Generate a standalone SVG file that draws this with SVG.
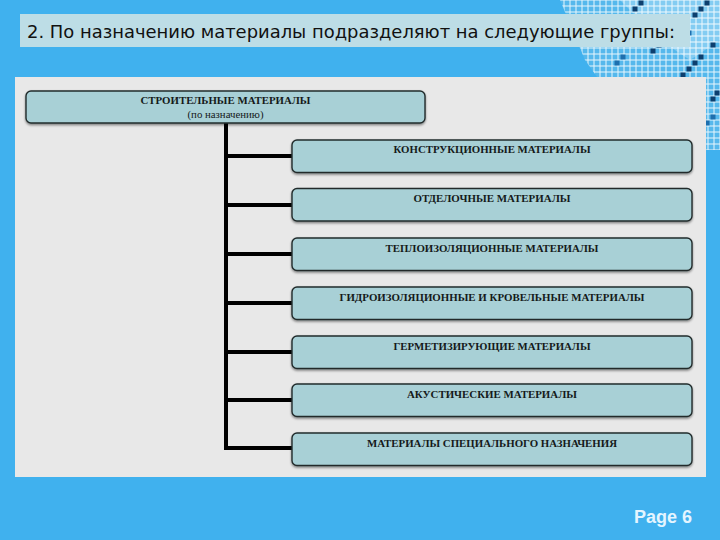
<svg xmlns="http://www.w3.org/2000/svg" width="720" height="540" viewBox="0 0 720 540">
<defs>
<pattern id="mosaic" width="6" height="6" patternUnits="userSpaceOnUse">
<rect width="6" height="6" fill="#e8f6fd"/>
<rect x="0.5" y="0.5" width="5" height="5" fill="#55b8ec"/>
</pattern>
<pattern id="mosaic2" width="6" height="6" patternUnits="userSpaceOnUse">
<rect width="6" height="6" fill="#f4fbff"/>
<rect x="0.5" y="0.5" width="5" height="5" fill="#8fd1f4"/>
</pattern>
<filter id="sh" x="-5%" y="-20%" width="110%" height="150%">
<feDropShadow dx="0" dy="1.5" stdDeviation="0.8" flood-color="#000" flood-opacity="0.45"/>
</filter>
</defs>
<style>
.box{fill:#a8d0d6;stroke:#222c2c;stroke-width:1.4;filter:url(#sh)}
.lbl{font-family:"Liberation Serif","Times New Roman",serif;font-weight:bold;font-size:11px;fill:#151a1a;text-anchor:middle}
.sub{font-family:"Liberation Serif","Times New Roman",serif;font-size:10px;fill:#151a1a;text-anchor:middle}
.conn{stroke:#000;stroke-width:4;fill:none}
</style>
<rect width="720" height="540" fill="#40b1ee"/>
<g id="decor">
<polygon points="560,0 720,0 720,150 700,150 650,120 610,95 585,60" fill="url(#mosaic)"/>
<polygon points="620,0 720,0 720,40 690,60 660,40" fill="url(#mosaic2)" opacity="0.8"/>
<g fill="#0d3f6e">
<rect x="650.5" y="48.5" width="5" height="5"/><rect x="656.5" y="42.5" width="5" height="5"/><rect x="662.5" y="36.5" width="5" height="5"/><rect x="668.5" y="30.5" width="5" height="5"/><rect x="674.5" y="24.5" width="5" height="5"/>
<rect x="692.5" y="12.5" width="5" height="5"/><rect x="698.5" y="6.5" width="5" height="5"/><rect x="704.5" y="0.5" width="5" height="5"/>
<rect x="680.5" y="72.5" width="5" height="5"/><rect x="686.5" y="66.5" width="5" height="5"/><rect x="692.5" y="60.5" width="5" height="5"/><rect x="698.5" y="54.5" width="5" height="5"/><rect x="710.5" y="42.5" width="5" height="5"/>
<rect x="632.5" y="6.5" width="5" height="5"/><rect x="638.5" y="0.5" width="5" height="5"/><rect x="710.5" y="96.5" width="5" height="5"/><rect x="714.5" y="90.5" width="5" height="5"/>
</g>
<g fill="#1e6fae">
<rect x="596.5" y="24.5" width="5" height="5"/><rect x="602.5" y="18.5" width="5" height="5"/><rect x="614.5" y="60.5" width="5" height="5"/><rect x="620.5" y="54.5" width="5" height="5"/><rect x="704.5" y="120.5" width="5" height="5"/><rect x="710.5" y="114.5" width="5" height="5"/><rect x="686.5" y="30.5" width="5" height="5"/>
</g>
</g>
<g id="title">
<rect x="20" y="14" width="670" height="33" fill="#bddde6"/>
<text x="27" y="38" font-family="'DejaVu Sans Condensed','DejaVu Sans',sans-serif" font-size="17.5" fill="#111" textLength="648" lengthAdjust="spacingAndGlyphs">2. По назначению материалы подразделяют на следующие группы:</text>
</g>
<rect id="panel" x="15" y="77" width="691" height="400" fill="#e8e8e8"/>
<g id="connectors">
<path class="conn" d="M226,123 V448"/>
<path class="conn" d="M224,156 H292 M224,205 H292 M224,254 H292 M224,303 H292 M224,352 H292 M224,400 H292 M224,448 H292"/>
</g>
<g id="root">
<rect class="box" x="26" y="91" width="399" height="32" rx="5"/>
<text class="lbl" x="225.5" y="104" textLength="170" lengthAdjust="spacingAndGlyphs">СТРОИТЕЛЬНЫЕ МАТЕРИАЛЫ</text>
<text class="sub" x="225.5" y="118" textLength="76" lengthAdjust="spacingAndGlyphs">(по назначению)</text>
</g>
<g id="n1">
<rect class="box" x="292" y="140" width="400" height="32.5" rx="5"/>
<text class="lbl" x="492" y="153" textLength="197" lengthAdjust="spacingAndGlyphs">КОНСТРУКЦИОННЫЕ МАТЕРИАЛЫ</text>
</g>
<g id="n2">
<rect class="box" x="292" y="188.5" width="400" height="32.5" rx="5"/>
<text class="lbl" x="492" y="201.5" textLength="157" lengthAdjust="spacingAndGlyphs">ОТДЕЛОЧНЫЕ МАТЕРИАЛЫ</text>
</g>
<g id="n3">
<rect class="box" x="292" y="238" width="400" height="32.5" rx="5"/>
<text class="lbl" x="492" y="251.5" textLength="213" lengthAdjust="spacingAndGlyphs">ТЕПЛОИЗОЛЯЦИОННЫЕ МАТЕРИАЛЫ</text>
</g>
<g id="n4">
<rect class="box" x="292" y="287" width="400" height="32.5" rx="5"/>
<text class="lbl" x="492" y="300.5" textLength="305" lengthAdjust="spacingAndGlyphs">ГИДРОИЗОЛЯЦИОННЫЕ И КРОВЕЛЬНЫЕ МАТЕРИАЛЫ</text>
</g>
<g id="n5">
<rect class="box" x="292" y="336" width="400" height="32.5" rx="5"/>
<text class="lbl" x="492" y="349.5" textLength="197" lengthAdjust="spacingAndGlyphs">ГЕРМЕТИЗИРУЮЩИЕ МАТЕРИАЛЫ</text>
</g>
<g id="n6">
<rect class="box" x="292" y="384" width="400" height="32.5" rx="5"/>
<text class="lbl" x="492" y="397.5" textLength="170" lengthAdjust="spacingAndGlyphs">АКУСТИЧЕСКИЕ МАТЕРИАЛЫ</text>
</g>
<g id="n7">
<rect class="box" x="292" y="433" width="400" height="32.5" rx="5"/>
<text class="lbl" x="492" y="446.5" textLength="250" lengthAdjust="spacingAndGlyphs">МАТЕРИАЛЫ СПЕЦИАЛЬНОГО НАЗНАЧЕНИЯ</text>
</g>
<text id="page" x="692" y="523" font-family="'Liberation Sans',Arial,sans-serif" font-weight="bold" font-size="18" fill="#e4f5ff" text-anchor="end">Page 6</text>
</svg>
